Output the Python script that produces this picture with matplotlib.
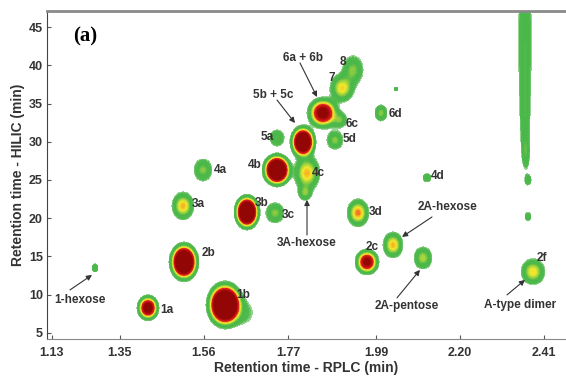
import numpy as np
import matplotlib
matplotlib.use('Agg')
import matplotlib.pyplot as plt
from matplotlib.colors import LinearSegmentedColormap

plt.rcParams['font.family'] = ['Liberation Sans Narrow', 'Liberation Sans', 'DejaVu Sans']

# peaks: RPLC time (min), HILIC time (min), relative height,
# half width at the outer green edge in each dimension
peak_rt1 = [1.2875, 1.420, 1.6125, 1.6600, 1.510, 1.9675, 1.5075, 1.6675, 1.7375, 1.945,
            1.8125, 1.5575, 1.7425, 1.8175, 2.1175, 1.7425, 1.8075, 1.8875, 1.8575, 1.900,
            2.0025, 1.905, 1.9325, 2.040, 2.0325, 2.1075, 2.3825,
            2.3625, 2.3625, 2.3625, 2.3625, 2.3625, 2.3650, 2.370, 2.370]
peak_rt2 = [13.5, 8.27, 8.66, 7.60, 14.28, 14.28, 21.6, 20.8, 20.7, 20.7,
            23.3, 26.3, 26.3, 25.9, 25.3, 30.5, 29.97, 30.2, 33.76, 32.84,
            33.76, 37.0, 39.4, 36.9, 16.5, 14.8, 13.0,
            46.6, 42.6, 38.7, 34.8, 30.9, 28.3, 25.0, 20.2]
peak_amp = [0.25, 1.3, 3.0, 0.15, 2.5, 1.1, 0.55, 2.5, 0.35, 0.6,
            0.3, 0.35, 2.5, 0.55, 0.25, 0.3, 2.2, 0.35, 1.2, 0.3,
            0.35, 0.5, 0.35, 0.2, 0.55, 0.4, 0.5,
            0.2, 0.2, 0.2, 0.2, 0.2, 0.2, 0.25, 0.25]
peak_wx = [0.0075, 0.0275, 0.0475, 0.020, 0.0375, 0.030, 0.0275, 0.0325, 0.0225, 0.0275,
           0.015, 0.0225, 0.0375, 0.0325, 0.010, 0.0175, 0.0325, 0.020, 0.040, 0.0175,
           0.015, 0.030, 0.025, 0.005, 0.025, 0.0225, 0.030,
           0.0135, 0.0135, 0.012, 0.011, 0.009, 0.007, 0.0075, 0.0075]
peak_wy = [0.52, 1.70, 3.14, 1.18, 2.61, 1.70, 1.83, 2.35, 1.31, 1.83,
           0.92, 1.44, 2.22, 2.35, 0.52, 1.05, 2.22, 1.18, 2.09, 0.92,
           1.05, 1.83, 1.83, 0.26, 1.70, 1.44, 1.70,
           2.6, 2.6, 2.6, 2.6, 2.6, 1.6, 0.65, 0.52]

# peak labels
lab_text = ['1a', '1b', '2b', '2c', '3a', '3b', '3c', '3d', '4a', '4b', '4c', '4d',
            '5a', '5d', '6c', '6d', '7', '8', '2f']
lab_x = [1.467, 1.657, 1.57, 1.98, 1.545, 1.705, 1.77, 1.99, 1.60, 1.6875, 1.845, 2.145,
         1.717, 1.925, 1.93, 2.0375, 1.88, 1.9075, 2.405]
lab_y = [8.0, 9.97, 15.46, 16.2, 21.9, 22.0, 20.4, 20.8, 26.3, 27.0, 25.9, 25.5,
         30.6, 30.4, 32.3, 33.6, 38.3, 40.4, 14.8]

# arrowed annotations: text, text position, arrow start, arrow tip
ann_text = ['1-hexose', '3A-hexose', '2A-hexose', '2A-pentose', 'A-type dimer', '6a + 6b', '5b + 5c']
ann_x = [1.25, 1.8175, 2.1675, 2.0675, 2.35, 1.8075, 1.7325]
ann_y = [9.3, 16.76, 21.47, 8.53, 8.66, 40.95, 36.1]
arr_x0 = [1.225, 1.8175, 2.13, 2.0425, 2.3175, 1.80, 1.7425]
arr_y0 = [10.62, 17.8, 20.16, 9.58, 9.97, 40.3, 35.46]
tip_x = [1.28, 1.8175, 2.055, 2.10, 2.3625, 1.8425, 1.7875]
tip_y = [12.58, 22.4, 17.55, 13.24, 11.93, 35.85, 32.45]

xtick_pos = [1.18, 1.35, 1.56, 1.77, 1.99, 2.20, 2.41]
xtick_lab = ['1.13', '1.35', '1.56', '1.77', '1.99', '2.20', '2.41']
ytick_val = [5, 10, 15, 20, 25, 30, 35, 40, 45]

x_lo, x_hi = 1.1675, 2.465
y_lo, y_hi = 4.2, 47.1
edge = 0.1

gx, gy = np.meshgrid(np.linspace(x_lo, x_hi, 800), np.linspace(y_lo, y_hi, 600))
Z = np.zeros_like(gx)
for x0, y0, a, wx, wy in zip(peak_rt1, peak_rt2, peak_amp, peak_wx, peak_wy):
    k = np.sqrt(2 * np.log(a / edge))
    sx, sy = wx / k, wy / k
    Z += a * np.exp(-0.5 * ((gx - x0) / sx) ** 2 - 0.5 * ((gy - y0) / sy) ** 2)

nodes = [(0.10, '#a6d8a2'), (0.14, '#4fb94c'), (0.28, '#48b74a'), (0.38, '#a2d33e'),
         (0.48, '#f0ea2c'), (0.56, '#f8b025'), (0.64, '#e2231e'), (0.85, '#b80e0e'),
         (1.00, '#980707')]
cmap = LinearSegmentedColormap.from_list('lcxlc', [((v - 0.1) / 0.9, c) for v, c in nodes])
cmap.set_over('#930606')

fig = plt.figure(figsize=(5.66, 3.76), dpi=100)
ax = fig.add_axes([47 / 566, 37 / 376, 519 / 566, 328 / 376])
ax.contourf(gx, gy, Z, levels=np.linspace(edge, 1.0, 46), cmap=cmap, extend='max')

for t, x, y in zip(lab_text, lab_x, lab_y):
    ax.text(x, y, t, fontsize=8.5, fontweight='bold', color='#333333', ha='center', va='center')

for t, x, y in zip(ann_text, ann_x, ann_y):
    ax.text(x, y, t, fontsize=8.5, fontweight='bold', color='#333333', ha='center', va='center')
for x0, y0, x1, y1 in zip(arr_x0, arr_y0, tip_x, tip_y):
    ax.annotate('', xy=(x1, y1), xytext=(x0, y0),
                arrowprops=dict(arrowstyle='-|>', color='#333333', lw=0.8, mutation_scale=8,
                                shrinkA=0, shrinkB=0))

ax.text(1.2625, 43.8, '(a)', fontsize=15, fontweight='bold', family='Liberation Serif',
        ha='center', va='center')

ax.set_xlim(x_lo, x_hi)
ax.set_ylim(y_lo, y_hi)
ax.set_xticks(xtick_pos)
ax.set_xticklabels(xtick_lab)
ax.set_yticks(ytick_val)
ax.tick_params(direction='in', length=3, labelsize=9, colors='#555555', labelcolor='#333333', pad=3)
ax.tick_params(axis='x', pad=6)
for lab in ax.get_xticklabels() + ax.get_yticklabels():
    lab.set_fontweight('bold')

ax.spines['right'].set_visible(False)
ax.spines['left'].set_color('#444444')
ax.spines['bottom'].set_color('#888888')
ax.spines['top'].set_color('#8a8a8a')
ax.spines['top'].set_linewidth(2)

ax.set_xlabel('Retention time - RPLC (min)', fontsize=10, fontweight='bold', color='#333333', labelpad=1)
ax.set_ylabel('Retention time - HILIC (min)', fontsize=10, fontweight='bold', color='#333333', labelpad=3)

fig.savefig('out.png', dpi=100)
